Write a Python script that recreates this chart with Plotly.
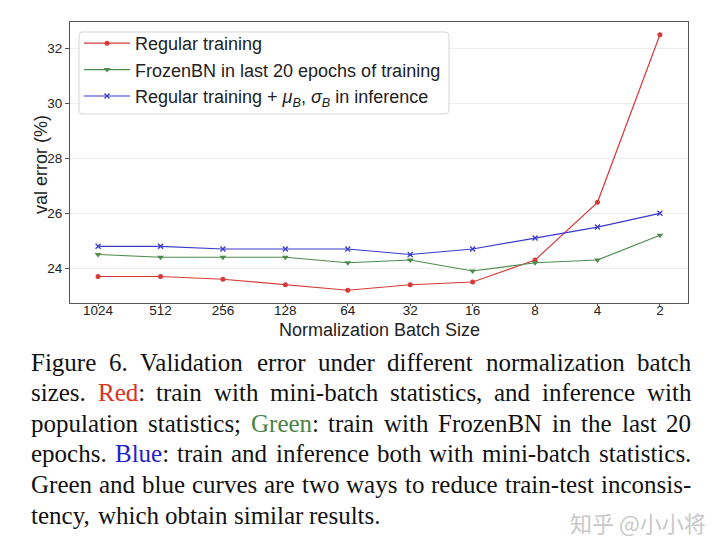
import plotly.graph_objects as go

# ---------------- data ----------------
batch_sizes = ["1024", "512", "256", "128", "64", "32", "16", "8", "4", "2"]
regular_training = [23.7, 23.7, 23.6, 23.4, 23.2, 23.4, 23.5, 24.3, 26.4, 32.5]
frozen_bn = [24.5, 24.4, 24.4, 24.4, 24.2, 24.3, 23.9, 24.2, 24.3, 25.2]
batch_stats_inference = [24.8, 24.8, 24.7, 24.7, 24.7, 24.5, 24.7, 25.1, 25.5, 26.0]
y_tick_values = [24, 26, 28, 30, 32]

series_names = [
    "Regular training",
    "FrozenBN in last 20 epochs of training",
    "Regular training + <i>μ</i><sub><i>B</i></sub>, <i>σ</i><sub><i>B</i></sub> in inference",
]
x_title = "Normalization Batch Size"
y_title = "val error (%)"

caption_lines = [
    "Figure 6. Validation error under different normalization batch",
    "sizes. Red: train with mini-batch statistics, and inference with",
    "population statistics; Green: train with FrozenBN in the last 20",
    "epochs. Blue: train and inference both with mini-batch statistics.",
    "Green and blue curves are two ways to reduce train-test inconsis-",
    "tency, which obtain similar results.",
]
watermark = "知乎 @小小将"

# ---------------- styles ----------------
RED, GREEN, BLUE = "#d63b3b", "#4e8c4e", "#3a3acf"
CAP_COLORS = {"Red:": "#d8321f", "Green:": "#4b7f45", "Blue:": "#1f22cc"}
SANS = "Liberation Sans, Arial, sans-serif"
SERIF = "Liberation Serif, Times New Roman, serif"

W, H = 720, 555
ML, MR, MT, MB = 70, 32, 22, 252
PW, PH = W - ML - MR, H - MT - MB


def px_to_paper(px, py):
    return (px - ML) / PW, (MT + PH - py) / PH


fig = go.Figure()
specs = [
    (regular_training, RED, "circle", 5),
    (frozen_bn, GREEN, "triangle-down", 6),
    (batch_stats_inference, BLUE, "x-thin", 5),
]
for i, (vals, col, sym, size) in enumerate(specs):
    marker = dict(symbol=sym, size=size, color=col)
    if sym == "x-thin":
        marker["line"] = dict(width=1.3, color=col)
    fig.add_trace(go.Scatter(
        x=batch_sizes, y=vals, mode="lines+markers", name=series_names[i],
        line=dict(color=col, width=1.2), marker=marker,
    ))

# ---------------- caption (justified, Times metrics) ----------------
TIMES = {
    ' ': 250, 'a': 444, 'b': 500, 'c': 444, 'd': 500, 'e': 444, 'f': 333, 'g': 500,
    'h': 500, 'i': 278, 'j': 278, 'k': 500, 'l': 278, 'm': 778, 'n': 500, 'o': 500,
    'p': 500, 'q': 500, 'r': 333, 's': 389, 't': 278, 'u': 500, 'v': 500, 'w': 722,
    'x': 500, 'y': 500, 'z': 444, 'A': 722, 'B': 667, 'C': 667, 'D': 722, 'E': 611,
    'F': 556, 'G': 722, 'H': 722, 'I': 333, 'J': 389, 'K': 722, 'L': 611, 'M': 889,
    'N': 722, 'O': 722, 'P': 556, 'Q': 722, 'R': 667, 'S': 556, 'T': 611, 'U': 722,
    'V': 722, 'W': 944, 'X': 722, 'Y': 722, 'Z': 611, '.': 250, ',': 250, ':': 278,
    ';': 278, '-': 333,
}
for d in "0123456789":
    TIMES[d] = 500

CAP_FS = 25
CAP_LEFT, CAP_RIGHT = 30, 690
CAP_BASE0, CAP_PITCH = 370, 30.6


def text_w(s):
    return sum(TIMES.get(c, 500) for c in s) / 1000 * CAP_FS


annotations = []
for li, line in enumerate(caption_lines):
    words = line.split(" ")
    widths = [text_w(w) for w in words]
    last = li == len(caption_lines) - 1
    if last or len(words) == 1:
        gap = text_w(" ")
    else:
        gap = (CAP_RIGHT - CAP_LEFT - sum(widths)) / (len(words) - 1)
    x = CAP_LEFT
    y_mid = CAP_BASE0 + li * CAP_PITCH - 0.32 * CAP_FS
    for w, wd in zip(words, widths):
        if w in CAP_COLORS:
            txt = f"<span style='color:{CAP_COLORS[w]}'>{w[:-1]}</span>:"
        else:
            txt = w
        xp, yp = px_to_paper(x, y_mid)
        annotations.append(dict(
            text=txt, x=xp, y=yp, xref="paper", yref="paper",
            xanchor="left", yanchor="middle", showarrow=False, borderpad=0,
            font=dict(family=SERIF, size=CAP_FS, color="#111111"),
        ))
        x += wd + gap

# axis titles as annotations for exact placement
xt, yt = px_to_paper(379, 329.5)
annotations.append(dict(
    text=x_title, x=xt, y=yt, xref="paper", yref="paper",
    xanchor="center", yanchor="middle", showarrow=False, borderpad=0,
    font=dict(family=SANS, size=18, color="#222222"),
))
xt, yt = px_to_paper(41, 165)
annotations.append(dict(
    text=y_title, x=xt, y=yt, xref="paper", yref="paper", textangle=-90,
    xanchor="center", yanchor="middle", showarrow=False,
    font=dict(family=SANS, size=18, color="#222222"),
))

wx, wy = px_to_paper(568, 522)
annotations.append(dict(
    text=watermark, x=wx, y=wy, xref="paper", yref="paper",
    xanchor="left", yanchor="middle", showarrow=False,
    font=dict(family="Noto Sans CJK SC", size=22, color="#c8c8c8"),
))

# rounded legend frame
bx0, by0, bx1, by1, r = 79, 32, 449, 114, 4
def P(px, py):
    a, b = px_to_paper(px, py)
    return f"{a:.5f},{b:.5f}"
frame_path = (
    f"M {P(bx0 + r, by0)} L {P(bx1 - r, by0)} Q {P(bx1, by0)} {P(bx1, by0 + r)} "
    f"L {P(bx1, by1 - r)} Q {P(bx1, by1)} {P(bx1 - r, by1)} "
    f"L {P(bx0 + r, by1)} Q {P(bx0, by1)} {P(bx0, by1 - r)} "
    f"L {P(bx0, by0 + r)} Q {P(bx0, by0)} {P(bx0 + r, by0)} Z"
)
shapes = [dict(type="path", path=frame_path, xref="paper", yref="paper",
               fillcolor="rgba(255,255,255,0.92)", line=dict(color="#d6d6d6", width=1),
               layer="above")]

lx, ly = px_to_paper(79, 25)
fig.update_layout(
    width=W, height=H,
    margin=dict(l=ML, r=MR, t=MT, b=MB, autoexpand=False),
    paper_bgcolor="white", plot_bgcolor="white",
    font=dict(family=SANS, color="#222222"),
    showlegend=True,
    legend=dict(
        x=lx, y=ly, xanchor="left", yanchor="top",
        bgcolor="rgba(0,0,0,0)", borderwidth=0,
        font=dict(family=SANS, size=18, color="#222222"),
        tracegroupgap=0, itemwidth=46,
    ),
    xaxis=dict(
        type="category", range=[-0.45, 9.45],
        showline=True, mirror=True, linecolor="#555555", linewidth=1.2,
        ticks="outside", ticklen=2, tickcolor="#555555", ticklabelstandoff=-7,
        showgrid=False, tickfont=dict(size=13.5, family=SANS, color="#222222"),
    ),
    yaxis=dict(
        range=[22.735, 32.965], tickvals=y_tick_values,
        showline=True, mirror=True, linecolor="#555555", linewidth=1.2,
        ticks="outside", ticklen=4, tickcolor="#555555",
        showgrid=True, gridcolor="#ececec", gridwidth=1, zeroline=False,
        tickfont=dict(size=13.5, family=SANS, color="#222222"),
    ),
    shapes=shapes,
    annotations=annotations,
)

fig.write_html("out.html", config={"displayModeBar": False},
               post_script="document.body.style.margin='0';document.body.style.overflow='hidden';")
